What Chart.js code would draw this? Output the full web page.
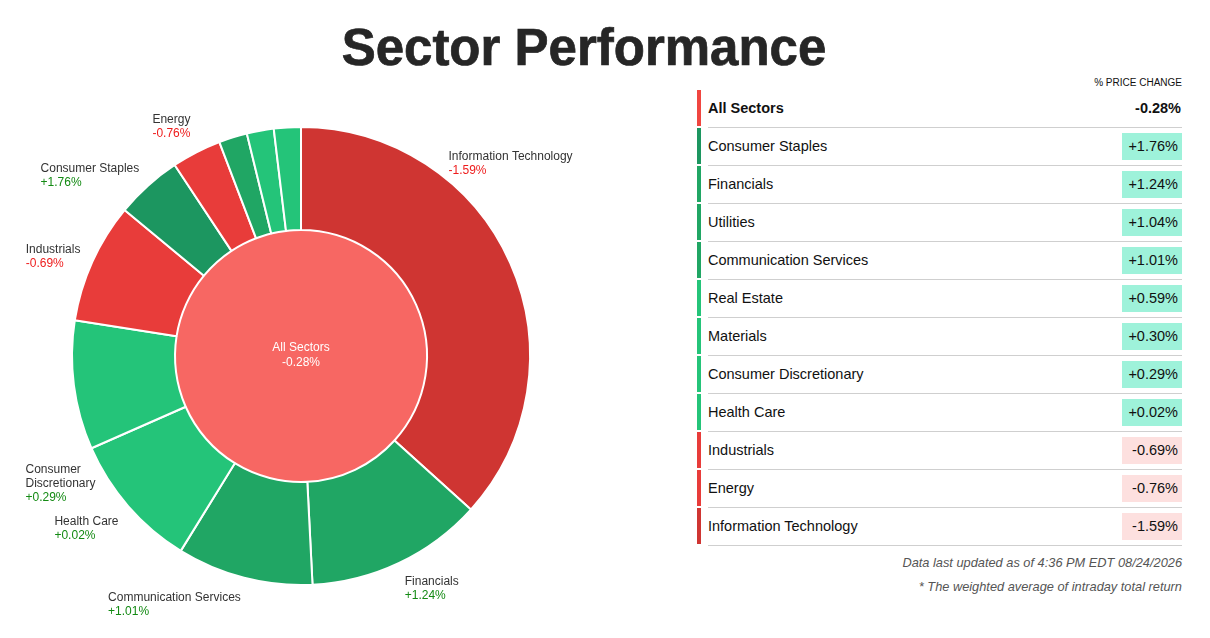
<!DOCTYPE html>
<html>
<head>
<meta charset="utf-8">
<title>Sector Performance</title>
<script src="https://cdn.jsdelivr.net/npm/chart.js@4.4.1/dist/chart.umd.min.js"></script>
<style>
  body {
    margin: 0;
    width: 1210px;
    height: 638px;
    background: #fff;
    position: relative;
    overflow: hidden;
    font-family: "Liberation Sans", Arial, sans-serif;
  }
  #title {
    position: absolute;
    left: 0;
    top: 22px;
    width: 1168px;
    text-align: center;
    font: bold 51px/51px "Liberation Sans", Arial, sans-serif;
    color: #262626;
    -webkit-text-stroke: 0.7px #262626;
  }
  #chartBox {
    position: absolute;
    left: 0;
    top: 76px;
    width: 600px;
    height: 560px;
  }
  #table {
    position: absolute;
    left: 697px;
    top: 76px;
    width: 485px;
  }
  .head {
    height: 14px;
    line-height: 14px;
    text-align: right;
    font-size: 10px;
    color: #111;
  }
  .row {
    position: relative;
    height: 38px;
  }
  .bar {
    position: absolute;
    left: 0;
    top: 0;
    width: 4px;
    height: 36px;
  }
  .sep {
    position: absolute;
    left: 11px;
    right: 0;
    top: 37px;
    height: 1px;
    background: #cfcfcf;
  }
  .name {
    position: absolute;
    left: 11px;
    top: 0;
    line-height: 37px;
    font-size: 14.5px;
    color: #111;
  }
  .badge {
    position: absolute;
    right: 0;
    top: 5px;
    width: 60px;
    height: 27px;
    line-height: 27px;
    text-align: right;
    padding-right: 4px;
    box-sizing: border-box;
    font-size: 14.5px;
    color: #111;
  }
  .total .name, .total .badge {
    font-weight: bold;
  }
  .total .badge {
    width: 80px;
    padding-right: 1px;
  }
  .note {
    position: absolute;
    right: 28px;
    font-style: italic;
    font-size: 12.8px;
    line-height: 16px;
    color: #555;
  }
</style>
</head>
<body>
<div id="title">Sector Performance</div>
<div id="chartBox"><canvas id="sectorChart"></canvas></div>
<div id="table"></div>
<div class="note" style="top:555px">Data last updated as of 4:36 PM EDT 08/24/2026</div>
<div class="note" style="top:579px">* The weighted average of intraday total return</div>

<script>
// slices in the order they go round the ring, clockwise from 12 o'clock
const sectors = [
    "Information Technology",
    "Financials",
    "Communication Services",
    "Health Care",
    "Consumer Discretionary",
    "Industrials",
    "Consumer Staples",
    "Energy",
    "Utilities",
    "Real Estate",
    "Materials"
];

// index weight, %
const weights = [36.7, 12.5, 9.6, 9.6, 9.1, 8.5, 4.7, 3.5, 2.0, 1.9, 1.9];

// % price change
const changes = [-1.59, 1.24, 1.01, 0.02, 0.29, -0.69, 1.76, -0.76, 1.04, 0.59, 0.30];

const allSectorsLabel = "All Sectors";
const allSectorsChange = -0.28;


function colorFor(c) {
    if (c >= 1.5) return "#1c9660";
    if (c >= 1) return "#20a664";
    if (c >= 0) return "#24c479";
    if (c > -0.5) return "#f76763";
    if (c > -1) return "#e83c3a";
    return "#cf3532";
}

function fmt(c) {
    return (c > 0 ? "+" : "") + c.toFixed(2) + "%";
}


// labels outside the ring, plus the text in the middle
const sectorLabels = {

    id: "sectorLabels",

    afterDatasetsDraw(chart, args, opts) {

        const ctx = chart.ctx;
        const meta = chart.getDatasetMeta(0);
        const total = weights.reduce((a, b) => a + b, 0);
        const lh = 14;

        ctx.save();
        ctx.font = '12px "Liberation Sans", Arial, sans-serif';
        ctx.textBaseline = "middle";
        ctx.textAlign = "left";

        meta.data.forEach((arc, i) => {

            if (weights[i] / total * 100 < opts.minShare) return;

            const p = arc.getProps(["x", "y", "startAngle", "endAngle", "outerRadius"], true);
            const nudge = (opts.nudge[sectors[i]] || 0) * Math.PI / 180;
            const mid = (p.startAngle + p.endAngle) / 2 + nudge;
            const r = p.outerRadius + opts.distance;
            const ax = p.x + Math.cos(mid) * r;
            const ay = p.y + Math.sin(mid) * r;
            const onRight = Math.cos(mid) >= 0;

            let lines = [sectors[i]];
            if (!onRight && ax - ctx.measureText(sectors[i]).width < opts.minX) {
                lines = sectors[i].split(" ");
            }
            const value = fmt(changes[i]);
            const w = Math.max(...lines.concat([value]).map(t => ctx.measureText(t).width));
            const h = (lines.length + 1) * lh;

            const up = -Math.sin(mid);
            const top = up > 0.85 ? ay - h : (up < -0.6 ? ay : ay - h / 2);
            const left = onRight ? ax : ax - w;

            ctx.fillStyle = "#333333";
            lines.forEach((t, k) => ctx.fillText(t, left, top + k * lh + lh / 2));

            ctx.fillStyle = changes[i] >= 0 ? "#138a13" : "#ee1c1c";
            ctx.fillText(value, left, top + lines.length * lh + lh / 2);

        });

        const c = meta.data[0];
        ctx.fillStyle = "#ffffff";
        ctx.textAlign = "center";
        ctx.fillText(allSectorsLabel, c.x, c.y - 8);
        ctx.fillText(fmt(allSectorsChange), c.x, c.y + 7);

        ctx.restore();
    }

};


new Chart(document.getElementById("sectorChart"), {

    type: "doughnut",

    data: {

        labels: sectors,

        datasets: [
            {
                data: weights,
                backgroundColor: changes.map(colorFor),
                borderColor: "#ffffff",
                borderWidth: 2,
                hoverOffset: 0,
                weight: 103
            },
            {
                data: [1],
                backgroundColor: [colorFor(allSectorsChange)],
                borderWidth: 0,
                hoverOffset: 0,
                weight: 126
            }
        ]

    },

    options: {

        responsive: true,
        maintainAspectRatio: false,
        animation: false,
        cutout: 0,

        layout: {
            padding: { left: 71, right: 69, top: 50, bottom: 50 }
        },

        plugins: {
            legend: { display: false },
            tooltip: { enabled: false },
            sectorLabels: {
                distance: 13,
                minShare: 3,
                minX: 30,
                // hand-tuned angle shifts (degrees) so labels sit where the original put them
                nudge: {
                    "Information Technology": -28.5,
                    "Consumer Discretionary": -24.5
                }
            }
        }

    },

    plugins: [sectorLabels]

});


// the table on the right, sorted by change
const order = sectors.map((s, i) => i).sort((a, b) => changes[b] - changes[a]);
const table = document.getElementById("table");

let html = '<div class="head">% PRICE CHANGE</div>';

html += '<div class="row total">' +
    '<div class="bar" style="background:#f04640"></div>' +
    '<div class="name">' + allSectorsLabel + '</div>' +
    '<div class="badge">' + fmt(allSectorsChange) + '</div>' +
    '<div class="sep"></div></div>';

order.forEach(i => {
    html += '<div class="row">' +
        '<div class="bar" style="background:' + colorFor(changes[i]) + '"></div>' +
        '<div class="name">' + sectors[i] + '</div>' +
        '<div class="badge" style="background:' + (changes[i] >= 0 ? "#9ef2da" : "#fde0df") + '">' + fmt(changes[i]) + '</div>' +
        '<div class="sep"></div></div>';
});

table.innerHTML = html;
</script>
</body>
</html>
